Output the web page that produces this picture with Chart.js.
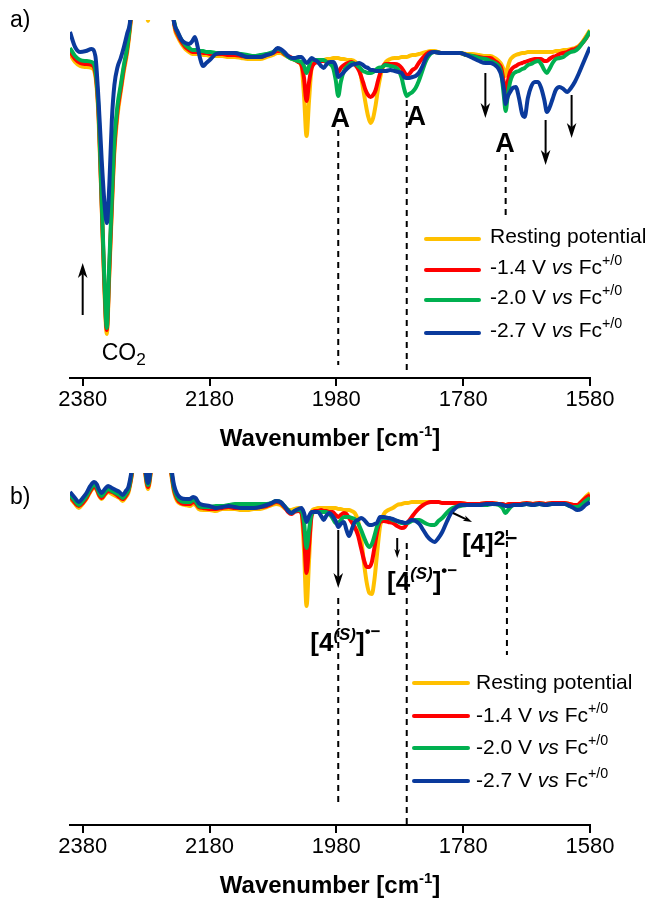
<!DOCTYPE html>
<html>
<head>
<meta charset="utf-8">
<script src="https://cdn.jsdelivr.net/npm/chart.js@4.4.1/dist/chart.umd.min.js"></script>
<style>
  html, body { margin: 0; padding: 0; background: #fff; }
  #wrap { position: relative; width: 648px; height: 900px; }
  canvas { position: absolute; left: 0; }
  #chartA { top: 0; }
  #chartB { top: 460px; }
</style>
</head>
<body>
<div id="wrap">
  <canvas id="chartA" width="648" height="470"></canvas>
  <canvas id="chartB" width="648" height="440"></canvas>
</div>
<script>
// ---- x-axis ticks (cm-1) ----
const tickValues = [2380, 2180, 1980, 1780, 1580];

// ---- series ----
const seriesNames = ['Resting potential', '-1.4 V vs Fc+/0', '-2.0 V vs Fc+/0', '-2.7 V vs Fc+/0'];
const potentials = ['-1.4', '-2.0', '-2.7'];
const seriesColors = ['#FFC000', '#FF0000', '#00B050', '#0A3A9C'];

// ---- panel a: spectra (a.u., larger = stronger absorption) ----
const wavenumbersA = [2400,2392,2384,2375,2366,2360,2355,2350,2346,2342,2338,2334,2330,2325,2320,2315,2310,2305,2299,2290,2282,2277,2272,2261,2248,2240,2235,2230,2224,2218,2212,2207,2203,2199,2195,2190,2185,2178,2170,2160,2150,2140,2130,2120,2110,2100,2090,2080,2073,2068,2062,2056,2050,2045,2040,2035,2031,2027,2023,2019,2014,2009,2004,2000,1995,1990,1985,1981,1977,1973,1968,1962,1956,1950,1944,1938,1934,1930,1926,1922,1918,1914,1908,1902,1895,1888,1882,1877,1873,1869,1865,1860,1855,1850,1844,1838,1832,1825,1815,1805,1795,1785,1775,1765,1755,1745,1737,1730,1724,1720,1716,1713,1710,1706,1702,1697,1692,1687,1683,1678,1673,1667,1662,1657,1652,1648,1644,1639,1634,1628,1622,1616,1610,1604,1598,1592,1586,1580];

const restingA = [3.4,4.2,4.6,4.7,4.8,5.6,9.8,18.8,26.5,31.4,
  25.5,19.0,13.2,9.5,7.2,5.1,3.3,0.7,-3.0,-10,
  -5,0.1,-5,-11,-8,-2.5,0.8,1.7,2.4,2.9,
  3.2,3.4,3.4,3.4,3.4,3.5,3.5,3.6,3.6,3.6,
  3.7,3.7,3.8,3.9,3.9,3.9,3.7,3.5,3.3,3.3,
  3.5,3.7,3.9,4.0,4.2,4.6,7.5,11.6,8.0,4.8,
  4.2,4.1,4.0,4.0,3.9,3.9,3.8,3.8,3.8,3.9,
  3.9,4.0,4.0,4.2,4.8,6.8,8.3,9.6,10.3,9.8,
  8.5,6.8,5.0,4.2,3.9,3.8,3.8,3.7,3.7,3.7,
  3.6,3.5,3.5,3.4,3.3,3.2,3.1,3.1,3.3,3.3,
  3.3,3.3,3.4,3.4,3.5,3.6,3.6,3.8,4.1,4.4,
  5.0,5.6,4.8,4.0,3.7,3.5,3.4,3.3,3.3,3.2,
  3.2,3.2,3.2,3.2,3.2,3.2,3.2,3.2,3.1,3.1,
  3.0,3.0,2.9,2.8,2.6,2.2,1.6,1.0];
const minus14A = [3.1,3.9,4.3,4.4,4.5,5.3,9.4,18.5,26.0,31.0,
  25.0,18.5,12.7,9.0,6.9,4.8,3.0,0.4,-3.5,-10,
  -6,-1.2,-6,-11,-8,-2.2,0.6,1.5,2.2,2.7,
  3.0,3.2,3.2,3.2,3.2,3.3,3.3,3.4,3.4,3.4,
  3.5,3.5,3.6,3.7,3.7,3.7,3.5,3.3,3.1,3.1,
  3.4,3.6,3.8,4.0,4.2,4.5,5.8,8.1,6.2,4.8,
  4.3,4.2,4.1,4.1,4.2,4.3,4.5,5.0,5.2,4.8,
  4.5,4.3,4.2,4.5,5.1,6.2,7.0,7.5,7.7,7.5,
  7.0,6.0,4.8,4.4,4.4,4.4,4.5,4.8,5.2,5.5,
  5.4,5.0,4.8,4.3,3.8,3.4,3.2,3.2,3.3,3.3,
  3.3,3.3,3.5,3.6,3.7,3.8,3.8,4.1,4.4,4.8,
  6.2,7.6,6.3,5.2,4.8,4.6,4.4,4.3,4.2,4.1,
  4.0,3.9,3.9,3.9,4.1,4.1,3.9,3.7,3.6,3.4,
  3.3,3.2,3.0,2.9,2.7,2.3,1.8,1.2];
const minus20A = [2.8,3.6,4.0,4.1,4.2,5.0,9.0,18.0,25.5,30.8,
  24.3,17.8,12.0,8.5,6.5,4.5,2.8,0.2,-4,-10,
  -6,-1.2,-6,-11,-8,-2.0,0.4,1.3,2.0,2.5,
  2.8,3.0,3.0,3.0,3.1,3.1,3.2,3.2,3.3,3.3,
  3.3,3.3,3.4,3.5,3.6,3.5,3.4,3.2,2.9,3.0,
  3.3,3.7,3.9,4.0,4.1,4.2,4.6,5.3,4.6,4.0,
  4.0,4.0,4.0,4.0,4.2,4.4,4.8,6.0,7.6,6.2,
  5.1,4.6,4.3,4.4,4.7,5.1,5.2,5.3,5.3,5.2,
  5.0,4.8,4.7,4.5,4.6,4.7,5.0,5.8,6.9,7.6,
  7.4,7.2,6.8,6.1,5.0,4.0,3.4,3.2,3.3,3.3,
  3.3,3.3,3.5,3.6,3.8,3.9,4.1,4.3,4.6,5.3,
  7.5,9.1,7.7,6.2,5.5,5.2,5.1,4.9,4.8,4.5,
  4.4,4.2,4.1,4.4,5.0,5.3,4.9,4.3,3.9,3.8,
  3.7,3.4,3.2,3.1,2.8,2.3,1.8,1.1];
const minus27A = [1.2,2.7,3.2,3.1,2.9,3.6,8.0,14.0,18.0,20.3,
  16.5,10.0,6.5,4.7,3.8,2.7,1.4,0.0,-6,-10,
  -6,-1.2,-6,-11,-8,-1.5,0.5,1.2,2.0,2.3,
  2.4,2.1,1.7,2.6,3.8,4.6,4.3,3.9,3.4,3.3,
  3.3,3.3,3.5,3.7,3.7,3.7,3.5,3.3,2.8,2.9,
  3.2,3.6,3.8,3.8,3.7,3.7,4.0,4.3,4.1,3.8,
  4.0,4.2,4.6,4.8,4.4,4.2,4.2,4.6,5.7,5.5,
  5.2,4.8,4.5,4.4,4.3,4.5,4.7,4.8,5.0,5.0,
  5.1,5.1,5.1,5.1,5.0,5.1,5.2,5.3,5.7,5.8,
  5.8,5.7,5.6,5.3,4.6,3.7,3.3,3.2,3.3,3.3,
  3.3,3.3,3.5,3.8,4.1,4.3,4.3,4.5,4.9,5.5,
  6.8,8.4,7.7,7.2,6.8,6.7,7.8,9.4,9.7,7.8,
  6.7,6.2,6.2,6.8,8.0,9.2,8.8,7.9,7.0,6.7,
  6.9,7.2,6.8,6.2,5.4,4.5,3.6,2.7];

// ---- panel b: spectra (a.u.) ----
const wavenumbersB = [2400,2392,2386,2380,2374,2368,2362,2358,2354,2350,2345,2340,2334,2328,2322,2317,2312,2308,2304,2298,2290,2283,2277,2271,2262,2250,2241,2236,2231,2225,2218,2211,2206,2202,2197,2190,2180,2170,2160,2150,2140,2130,2120,2110,2100,2090,2082,2075,2068,2062,2056,2051,2046,2040,2035,2031,2027,2023,2019,2014,2009,2004,2000,1996,1991,1986,1981,1977,1973,1968,1964,1960,1956,1951,1946,1941,1936,1932,1928,1924,1920,1916,1911,1905,1898,1891,1884,1877,1872,1867,1861,1855,1849,1843,1837,1831,1825,1819,1813,1806,1799,1792,1784,1774,1764,1754,1744,1734,1724,1718,1713,1708,1700,1690,1680,1670,1660,1650,1640,1630,1620,1612,1606,1600,1594,1587,1580];

const restingB = [2.5,3.1,3.5,3.1,2.6,1.9,1.5,1.7,2.3,2.6,
  2.2,1.9,2.1,2.3,2.5,2.8,2.4,2.0,0.8,-1.7,
  -3.7,-0.7,1.6,-0.7,-3.7,-2.7,-0.1,1.9,2.8,3.1,
  3.2,3.3,3.1,3.2,3.6,3.7,3.7,3.8,3.6,3.6,
  3.6,3.7,3.7,3.6,3.6,3.4,3.2,3.1,3.2,3.5,
  3.7,3.7,3.6,3.5,3.9,7.7,13.3,8.7,3.9,3.6,
  3.5,3.5,3.5,3.5,3.5,3.5,3.5,3.6,3.6,3.7,
  3.7,3.7,3.8,4.0,4.7,6.5,9.2,11.0,12.0,12.1,
  10.7,8.2,5.3,4.1,3.7,3.5,3.2,3.1,3.0,3.0,
  2.9,2.9,2.9,2.9,2.9,2.9,2.9,2.9,3.0,3.0,
  3.0,3.0,3.0,3.1,3.1,3.1,3.0,3.0,3.1,3.1,
  3.2,3.1,3.1,3.1,3.0,3.1,3.0,3.1,3.0,3.0,
  3.0,3.1,3.2,3.2,2.9,2.4,2.0];
const minus14B = [2.3,3.0,3.3,3.0,2.5,1.8,1.4,1.6,2.2,2.5,
  2.1,1.8,1.9,2.1,2.4,2.6,2.3,1.8,0.7,-1.9,
  -3.9,-0.9,1.4,-0.9,-3.9,-2.9,-0.3,1.7,2.6,3.0,
  3.1,3.1,2.9,3.0,3.4,3.5,3.6,3.6,3.5,3.4,
  3.5,3.5,3.5,3.5,3.4,3.3,3.1,2.9,3.0,3.4,
  3.9,4.1,3.9,3.8,4.0,6.2,10.0,7.2,4.3,3.8,
  3.8,3.7,3.8,3.8,3.9,3.9,4.2,4.4,4.2,4.0,
  4.1,4.5,4.9,5.4,6.2,7.5,8.8,9.4,9.4,8.9,
  7.5,6.0,4.9,4.8,4.9,5.0,5.3,5.5,5.4,4.9,
  4.4,3.9,3.5,3.2,3.0,2.9,2.9,2.9,3.0,3.0,
  3.0,3.0,3.0,3.1,3.1,3.1,3.0,3.0,3.1,3.1,
  3.2,3.1,3.1,3.1,3.0,3.1,3.0,3.1,3.0,3.0,
  3.0,3.1,3.2,3.2,2.9,2.5,2.2];
const minus20B = [2.2,2.8,3.2,2.8,2.3,1.6,1.2,1.4,2.0,2.3,
  1.9,1.6,1.8,2.0,2.2,2.5,2.1,1.7,0.5,-2.1,
  -4.1,-1.1,1.2,-1.1,-4.1,-3.1,-0.5,1.5,2.4,2.8,
  2.9,2.9,2.7,2.8,3.3,3.4,3.4,3.3,3.3,3.2,
  3.1,3.1,3.1,3.1,3.1,3.1,3.0,2.8,2.9,3.3,
  3.7,4.0,3.8,3.7,3.8,4.9,7.5,5.7,4.1,3.9,
  3.9,3.9,3.9,3.9,4.1,4.5,5.0,5.0,4.7,4.4,
  4.4,4.4,4.5,4.6,5.0,5.7,6.5,7.1,7.4,7.1,
  6.3,5.4,4.7,4.5,4.5,4.7,4.8,5.0,5.0,5.0,
  4.8,4.7,4.7,4.9,5.1,5.2,5.2,4.8,4.5,4.0,
  3.6,3.4,3.3,3.2,3.2,3.2,3.2,3.1,3.2,3.5,
  4.0,3.6,3.2,3.2,3.1,3.2,3.1,3.2,3.1,3.1,
  3.1,3.3,3.4,3.4,3.2,2.8,2.5];
const minus27B = [1.9,2.5,2.9,2.5,2.0,1.3,0.9,1.1,1.7,2.0,
  1.6,1.3,1.5,1.7,1.9,2.2,1.8,1.4,0.2,-2.3,
  -4.3,-1.3,1.0,-1.3,-4.3,-3.3,-0.8,1.2,2.1,2.5,
  2.6,2.6,2.4,2.5,3.0,3.2,3.3,3.5,3.4,3.3,
  3.4,3.5,3.5,3.5,3.4,3.2,3.0,2.8,2.9,3.3,
  3.8,4.0,3.8,3.6,3.5,4.0,4.9,4.3,3.9,3.9,
  3.9,4.3,4.7,4.3,4.0,4.3,4.8,5.4,5.1,4.9,
  5.7,6.3,5.7,4.9,4.7,4.5,4.7,5.0,5.2,5.2,
  5.1,5.0,4.4,4.4,4.5,4.6,4.8,4.9,5.0,4.9,
  4.7,4.8,5.1,5.7,6.3,6.7,6.9,6.5,5.9,4.9,
  4.0,3.5,3.2,3.2,3.2,3.2,3.1,3.1,3.1,3.2,
  3.3,3.3,3.2,3.2,3.1,3.2,3.1,3.2,3.1,3.1,
  3.1,3.3,3.5,3.7,3.6,3.2,2.9];

// ---- annotation anchors (wavenumber, a.u.) ----
const guidesA = [
  { wn: 1977, from: 11.0, to: 34.5 },
  { wn: 1869, from: 8.0, to: 35.5 },
  { wn: 1713, from: 13.4, to: 19.5 }
];
const arrowsA = [
  { wn: 2380, from: 29.5, to: 24.3 },
  { wn: 1745, from: 5.3, to: 9.8 },
  { wn: 1650, from: 10.0, to: 14.5 },
  { wn: 1609, from: 7.5, to: 11.8 }
];
const guidesB = [
  { wn: 1977, from: 12.5, to: 33.2 },
  { wn: 1869, from: 7.0, to: 35.1 },
  { wn: 1711, from: 5.7, to: 18.2 }
];
const arrowsB = [
  { wn: 1977, from: 5.7, to: 11.5 },
  { wn: 1884, from: 6.5, to: 8.5, head: 9 },
  { wn: 1796, from: 4.0, wnTo: 1766, to: 4.9, head: 9 }
];

const FONT = '"Liberation Sans", Arial, Helvetica, sans-serif';
Chart.defaults.font.family = FONT;
Chart.defaults.color = '#000';

const radical = [
  { t: '[4', bold: true },
  { t: '(S)', bold: true, italic: true, scale: 0.65, raise: 0.42 },
  { t: ']', bold: true },
  { t: '\u2022\u2212', bold: true, scale: 0.65, raise: 0.55 }
];
const labelsA = [
  { wn: 1974, v: 10.7, size: 27, align: 'center', parts: [{ t: 'A', bold: true }] },
  { wn: 1854, v: 10.5, size: 27, align: 'center', parts: [{ t: 'A', bold: true }] },
  { wn: 1714, v: 13.2, size: 27, align: 'center', parts: [{ t: 'A', bold: true }] },
  { wn: 2350, v: 34.0, size: 23, align: 'left', parts: [{ t: 'CO' }, { t: '2', scale: 0.75, raise: -0.22 }] }
];
const labelsB = [
  { wn: 2021, v: 17.8, size: 26, align: 'left', parts: radical },
  { wn: 1900, v: 11.7, size: 26, align: 'left', parts: radical },
  { wn: 1782, v: 7.9, size: 26, align: 'left', parts: [{ t: '[4]', bold: true }, { t: '2\u2212', bold: true, scale: 0.8, raise: 0.28 }] }
];

function drawRich(ctx, x, y, parts, size, align) {
  let total = 0;
  const segs = parts.map(p => {
    const s = size * (p.scale || 1);
    const font = (p.italic ? 'italic ' : '') + (p.bold ? 'bold ' : '') + s + 'px ' + FONT;
    ctx.font = font;
    const w = ctx.measureText(p.t).width;
    total += w;
    return { t: p.t, font, w, dy: -(p.raise || 0) * size };
  });
  let cx = align === 'center' ? x - total / 2 : x;
  ctx.textAlign = 'left';
  ctx.textBaseline = 'alphabetic';
  for (const s of segs) {
    ctx.font = s.font;
    ctx.fillText(s.t, cx, y + s.dy);
    cx += s.w;
  }
}

function drawArrow(ctx, x1, y1, x2, y2, head) {
  const len = head || 15;
  const half = len * 0.32;
  const ang = Math.atan2(y2 - y1, x2 - x1);
  const bx = x2 - Math.cos(ang) * len, by = y2 - Math.sin(ang) * len;
  const nx = -Math.sin(ang), ny = Math.cos(ang);
  ctx.beginPath();
  ctx.moveTo(x1, y1);
  ctx.lineTo(x2 - Math.cos(ang) * len * 0.7, y2 - Math.sin(ang) * len * 0.7);
  ctx.stroke();
  ctx.beginPath();
  ctx.moveTo(x2, y2);
  ctx.lineTo(bx + nx * half, by + ny * half);
  ctx.lineTo(x2 - Math.cos(ang) * len * 0.72, y2 - Math.sin(ang) * len * 0.72);
  ctx.lineTo(bx - nx * half, by - ny * half);
  ctx.closePath();
  ctx.fill();
}

const decorations = {
  id: 'decorations',
  afterDatasetsDraw(chart, args, o) {
    const { ctx, scales: { x, y } } = chart;
    ctx.save();
    ctx.strokeStyle = '#000';
    ctx.fillStyle = '#000';
    // dashed guide lines
    ctx.lineWidth = 2;
    ctx.setLineDash([6, 5]);
    for (const g of o.guides) {
      const px = x.getPixelForValue(g.wn);
      ctx.beginPath();
      ctx.moveTo(px, y.getPixelForValue(g.from));
      ctx.lineTo(px, y.getPixelForValue(g.to));
      ctx.stroke();
    }
    ctx.setLineDash([]);
    // arrows
    ctx.lineWidth = 2;
    for (const a of o.arrows) {
      drawArrow(ctx, x.getPixelForValue(a.wn), y.getPixelForValue(a.from),
        x.getPixelForValue(a.wnTo || a.wn), y.getPixelForValue(a.to), a.head);
    }
    // band labels
    for (const l of o.labels) {
      drawRich(ctx, x.getPixelForValue(l.wn), y.getPixelForValue(l.v), l.parts, l.size, l.align);
    }
    ctx.restore();
  },
  afterDraw(chart, args, o) {
    const { ctx, chartArea } = chart;
    ctx.save();
    ctx.fillStyle = '#000';
    // panel letter
    drawRich(ctx, o.letter.x, o.letter.y, [{ t: o.letter.t }], 23, 'left');
    // axis title
    const cx = (chartArea.left + chartArea.right) / 2;
    drawRich(ctx, cx, chartArea.bottom + o.titleOffset,
      [{ t: 'Wavenumber [cm', bold: true }, { t: '-1', bold: true, scale: 0.62, raise: 0.42 }, { t: ']', bold: true }], 24, 'center');
    // legend
    const L = o.legend;
    seriesNames.forEach((name, i) => {
      const yy = L.y + L.dy[i];
      ctx.strokeStyle = seriesColors[i];
      ctx.lineWidth = 4;
      ctx.lineCap = 'round';
      ctx.beginPath();
      ctx.moveTo(L.x1, yy);
      ctx.lineTo(L.x2, yy);
      ctx.stroke();
      const parts = i === 0 ? [{ t: 'Resting potential' }]
        : [{ t: potentials[i - 1] + ' V ' }, { t: 'vs', italic: true }, { t: ' Fc' }, { t: '+/0', scale: 0.68, raise: 0.45 }];
      drawRich(ctx, L.tx, yy + L.base, parts, 21, 'left');
    });
    ctx.restore();
  }
};

function makeDatasets(wn, lists) {
  return lists.map((vals, i) => ({
    label: seriesNames[i],
    data: wn.map((w, k) => ({ x: w, y: vals[k] })),
    borderColor: seriesColors[i],
    backgroundColor: seriesColors[i],
    borderWidth: 4,
    pointRadius: 0,
    fill: false,
    cubicInterpolationMode: 'monotone',
    order: lists.length - i
  }));
}

function makeChart(id, wn, lists, yMax, deco) {
  return new Chart(document.getElementById(id), {
    type: 'line',
    data: { datasets: makeDatasets(wn, lists) },
    options: {
      responsive: false,
      animation: false,
      devicePixelRatio: 1,
      layout: { padding: { left: 70, right: 58, top: 20, bottom: 30 } },
      plugins: { legend: { display: false }, tooltip: { enabled: false }, decorations: deco },
      scales: {
        x: {
          type: 'linear', reverse: true, min: 1580, max: 2400,
          afterBuildTicks: s => { s.ticks = tickValues.map(v => ({ value: v })); },
          ticks: { font: { size: 22 }, color: '#000', padding: 1, maxRotation: 0, autoSkip: false,
            callback: v => String(v) },
          grid: { drawOnChartArea: false, drawTicks: true, tickLength: 8, color: '#000', lineWidth: 2 },
          border: { display: true, color: '#000', width: 2 }
        },
        y: { type: 'linear', display: false, reverse: true, min: 0, max: yMax }
      }
    },
    plugins: [decorations]
  });
}

function fitArea(chart, left, right, top, bottom) {
  for (let k = 0; k < 3; k++) {
    const p = chart.options.layout.padding;
    const a = chart.chartArea;
    p.left += left - a.left;
    p.right += a.right - right;
    p.top += top - a.top;
    p.bottom += a.bottom - bottom;
    chart.update('none');
  }
}

const chartA = makeChart('chartA', wavenumbersA, [restingA, minus14A, minus20A, minus27A], 35.8, {
  guides: guidesA, arrows: arrowsA, labels: labelsA, titleOffset: 68,
  letter: { t: 'a)', x: 10, y: 27 },
  legend: { x1: 426, x2: 479, tx: 490, y: 239, dy: [0, 31, 61, 94], base: 4 }
});
fitArea(chartA, 70, 590, 20, 378);

const chartB = makeChart('chartB', wavenumbersB, [restingB, minus14B, minus20B, minus27B], 35.2, {
  guides: guidesB, arrows: arrowsB, labels: labelsB, titleOffset: 68,
  letter: { t: 'b)', x: 10, y: 44 },
  legend: { x1: 414, x2: 468, tx: 476, y: 223, dy: [0, 33, 65, 98], base: 6 }
});
fitArea(chartB, 70, 590, 13, 365);
</script>
</body>
</html>
